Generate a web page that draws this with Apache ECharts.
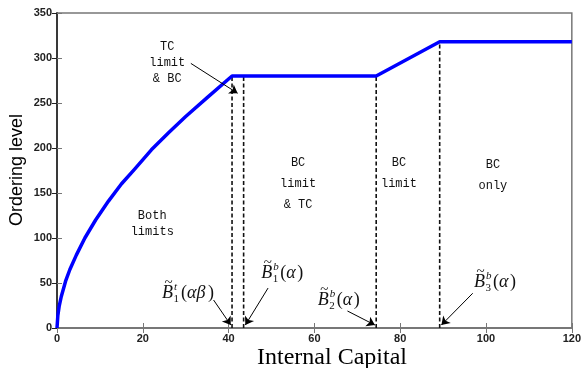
<!DOCTYPE html>
<html>
<head>
<meta charset="utf-8">
<script src="https://cdn.jsdelivr.net/npm/echarts@6/dist/echarts.min.js"></script>
<style>html,body{margin:0;padding:0;background:#fff;}#c{width:584px;height:368px;}</style>
</head>
<body>
<div id="c"></div>
<script>
// ---- data ----
var curveX = [0, 0.2, 0.5, 1, 2, 3, 4.5, 6.5, 9, 12, 15, 18, 22, 26, 30, 35, 40.8, 74.4, 89.2, 120];
var curveY = [0, 14, 24, 35, 52, 65, 81, 100, 120, 141, 160, 176, 198, 217, 235, 256, 280, 280, 318, 318];
var thresholdX = [40.8, 43.5, 74.4, 89.2];
var thresholdTop = [280, 280, 280, 318];
var xTicks = [0, 20, 40, 60, 80, 100, 120];
var yTicks = [0, 50, 100, 150, 200, 250, 300, 350];

// region annotations (data coords of centre of first line)
var regionText = ['TC\nlimit\n& BC', 'Both\nlimits', 'BC\nlimit\n& TC', 'BC\nlimit', 'BC\nonly'];
var regionX = [25.7, 22.2, 56.2, 79.7, 101.6];
var regionY = [312, 124.4, 183, 183, 181];
// math labels
var mathSup = ['t', 'b', 'b', 'b'];
var mathSub = ['1', '1', '2', '3'];
var mathArg = ['αβ', 'α', 'α', 'α'];
var mathX = [24.5, 47.6, 60.8, 97.2];
var mathY = [38.9, 61.1, 31.1, 51.1];
// arrows [fromX, fromY] -> [toX, toY]
var arrowFrom = [[31.2, 294], [36.5, 31.1], [49.2, 44.4], [67.7, 18.9], [96.9, 38.6]];
var arrowTo = [[42.1, 260.8], [40.5, 3.3], [43.9, 3.3], [74.1, 3.3], [89.6, 3.3]];

var chart = echarts.init(document.getElementById('c'), null, {renderer: 'canvas'});
var axisCol = '#777';
var lblStyle = {color: '#222', fontFamily: 'Liberation Sans, Arial', fontSize: 11, fontWeight: 'bold'};

var curveData = curveX.map(function (x, i) { return [x, curveY[i]]; });
var series = [{
  type: 'line', data: curveData, showSymbol: false, smooth: false,
  lineStyle: {color: '#0000ff', width: 3.5, join: 'round'}, z: 5, animation: false
}];
thresholdX.forEach(function (x, i) {
  series.push({
    type: 'line', data: [[x, 0], [x, thresholdTop[i]]], showSymbol: false,
    lineStyle: {color: '#111', width: 1.6, type: [4, 2.5]}, z: 4, animation: false
  });
});
series.push({
  type: 'lines', coordinateSystem: 'cartesian2d', z: 6, animation: false,
  symbol: ['none', 'arrow'], symbolSize: 8,
  lineStyle: {color: '#000', width: 1, opacity: 1},
  data: arrowFrom.map(function (f, i) { return {coords: [f, arrowTo[i]]}; })
});

chart.setOption({
  animation: false,
  grid: {left: 57, right: 7, top: 13, bottom: 40, show: true, borderColor: axisCol, borderWidth: 1.5},
  xAxis: [{
    type: 'value', min: 0, max: 120, interval: 20,
    axisLine: {show: true, lineStyle: {color: axisCol, width: 1.5}},
    axisTick: {inside: true, length: 5, lineStyle: {color: axisCol}},
    axisLabel: Object.assign({margin: 5}, lblStyle), splitLine: {show: false}
  }, {
    type: 'value', position: 'top', min: 0, max: 120, interval: 20,
    axisLine: {show: true, lineStyle: {color: axisCol, width: 1.5}},
    axisTick: {inside: true, length: 5, lineStyle: {color: axisCol}},
    axisLabel: {show: false}, splitLine: {show: false}
  }],
  yAxis: [{
    type: 'value', min: 0, max: 350, interval: 50,
    axisLine: {show: true, lineStyle: {color: axisCol, width: 1.5}},
    axisTick: {inside: true, length: 5, lineStyle: {color: axisCol}},
    axisLabel: Object.assign({margin: 5}, lblStyle), splitLine: {show: false}
  }, {
    type: 'value', position: 'right', min: 0, max: 350, interval: 50,
    axisLine: {show: true, lineStyle: {color: '#222', width: 1.5}},
    axisTick: {inside: true, length: 5, lineStyle: {color: '#222'}},
    axisLabel: {show: false}, splitLine: {show: false}
  }],
  series: series
});

function px(x, y) { return chart.convertToPixel({gridIndex: 0}, [x, y]); }
var graphics = [];
regionText.forEach(function (t, i) {
  var p = px(regionX[i], regionY[i]);
  var lh = (i >= 2) ? 21 : 16;
  graphics.push({
    type: 'text', x: p[0], y: p[1] - lh / 2,
    style: {text: t, fill: '#111', font: '12px "Liberation Mono", monospace', align: 'center', verticalAlign: 'top', lineHeight: lh}
  });
});
mathSup.forEach(function (s, i) {
  var p = px(mathX[i], mathY[i]);
  var serif = '"Liberation Serif", "Times New Roman", serif';
  graphics.push({
    type: 'group', x: p[0], y: p[1],
    children: [
      {type: 'text', x: 0, y: 0, style: {text: 'B', fill: '#111', font: 'italic 18px ' + serif, verticalAlign: 'middle'}},
      {type: 'text', x: 2.5, y: -10, style: {text: '~', fill: '#111', font: '15px ' + serif, verticalAlign: 'middle'}},
      {type: 'text', x: 12, y: -6, style: {text: s, fill: '#111', font: 'italic 11px ' + serif, verticalAlign: 'middle'}},
      {type: 'text', x: 11.5, y: 6, style: {text: mathSub[i], fill: '#111', font: '11px ' + serif, verticalAlign: 'middle'}},
      {type: 'text', x: 19, y: 0, style: {text: '(', fill: '#111', font: '18px ' + serif, verticalAlign: 'middle'}},
      {type: 'text', x: 25, y: 0, style: {text: mathArg[i], fill: '#111', font: 'italic 18px ' + serif, verticalAlign: 'middle'}},
      {type: 'text', x: 25 + (mathArg[i].length === 2 ? 21 : 11), y: 0, style: {text: ')', fill: '#111', font: '18px ' + serif, verticalAlign: 'middle'}}
    ]
  });
});
graphics.push({
  type: 'text', x: 17.5, y: 170, rotation: Math.PI / 2,
  style: {text: 'Ordering level', fill: '#000', font: '18px "Liberation Sans", Arial, sans-serif', align: 'center', verticalAlign: 'middle'}
});
graphics.push({
  type: 'text', x: 332, y: 358,
  style: {text: 'Internal Capital', fill: '#000', font: '24px "Liberation Serif", "Times New Roman", serif', align: 'center', verticalAlign: 'middle'}
});
chart.setOption({graphic: graphics});
</script>
</body>
</html>
